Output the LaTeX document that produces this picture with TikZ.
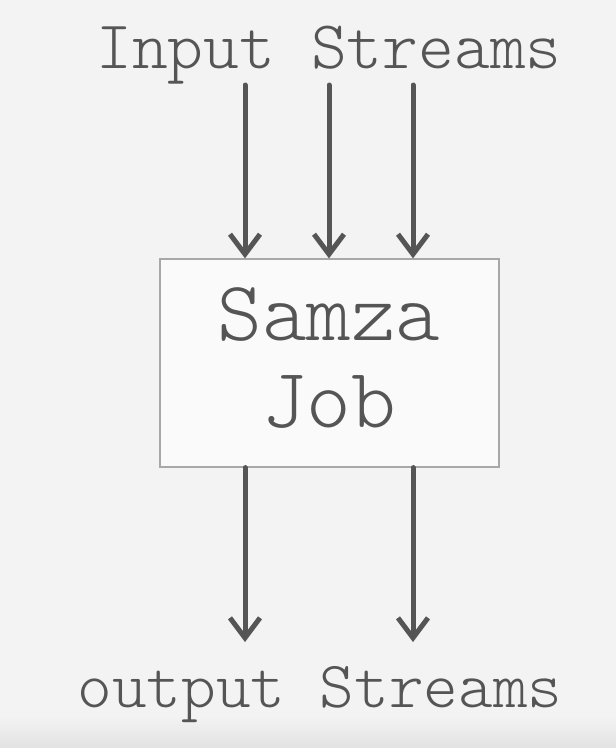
\documentclass[tikz,border=0pt]{standalone}
\usepackage{fontspec}
\setmonofont{Latin Modern Mono Light}
\usetikzlibrary{arrows.meta}
\definecolor{bg}{HTML}{F3F3F3}
\definecolor{ink}{HTML}{555555}
\definecolor{boxline}{HTML}{A8A8A8}
\definecolor{boxfill}{HTML}{FAFAFA}
\definecolor{shade}{HTML}{E2E2E2}
\tikzset{
  flow/.style={draw=ink, line width=5pt, line cap=round,
    -{Straight Barb[length=20pt,width=30pt,line width=5pt]}},
  label/.style={text=ink, inner sep=0pt, anchor=base},
  jobbox/.style={draw=boxline, fill=boxfill, line width=1.2pt, minimum width=339pt, minimum height=208pt, inner sep=0pt}
}
\begin{document}
\begin{tikzpicture}[x=1pt,y=-1pt]
\fill[bg] (0,0) rectangle (616,748);
\shade[top color=bg, bottom color=shade] (0,716) rectangle (616,748);
\useasboundingbox (0,0) rectangle (616,748);
\node[jobbox] (job) at (329.5,363) {};
\node[label, font=\fontsize{68.2}{68.2}\selectfont\ttfamily] (in) at (329,68) {Input Streams};
\node[label, font=\fontsize{85}{85}\selectfont\ttfamily] (samza) at (329,340) {Samza};
\node[label, font=\fontsize{85}{85}\selectfont\ttfamily] (jobt) at (329,427) {Job};
\node[label, font=\fontsize{66}{66}\selectfont\ttfamily] (out) at (320,707) {output Streams};
\coordinate (i1) at (245,85);
\coordinate (i2) at (329,85);
\coordinate (i3) at (413,85);
\coordinate (o1) at (245,642);
\coordinate (o2) at (413,642);
\draw[flow] (i1) -- (i1 |- job.north);
\draw[flow] (i2) -- (i2 |- job.north);
\draw[flow] (i3) -- (i3 |- job.north);
\draw[flow] (o1 |- job.south) -- (o1);
\draw[flow] (o2 |- job.south) -- (o2);
\end{tikzpicture}
\end{document}
